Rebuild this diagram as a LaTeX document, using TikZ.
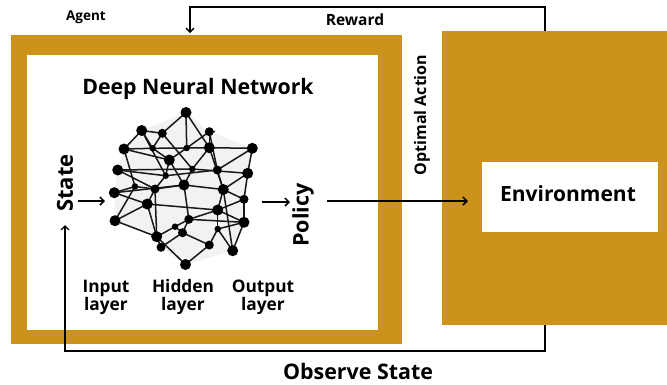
\documentclass[tikz,border=0pt]{standalone}
\usepackage{fontspec}
\setmainfont{Open Sans}
\usetikzlibrary{arrows.meta}
\definecolor{gold}{RGB}{203,147,26}
\begin{document}
\begin{tikzpicture}[x=1pt,y=-1pt,
  lbl/.style={font=\bfseries, text=black, inner sep=0pt},
  arr/.style={-{Straight Barb[length=4pt,width=8pt]}, line width=1.5pt},
  nb/.style={circle, fill=black, inner sep=0pt, minimum size=11pt},
  nm/.style={circle, fill=black, inner sep=0pt, minimum size=9pt},
  ns/.style={circle, fill=black, inner sep=0pt, minimum size=6.5pt},
  edge/.style={line width=1.5pt, black!90}]
\useasboundingbox (0,0) rectangle (667,384);
% Agent box
\fill[gold] (11,35) rectangle (402,344);
\fill[white] (27,55) rectangle (378,330);
% Environment box
\fill[gold] (442,31) rectangle (667,325);
\node[fill=white, minimum width=176pt, minimum height=70pt, inner sep=0pt] (env) at (570,197) {};
\node[lbl, font=\fontsize{21}{25}\selectfont\bfseries] (envt) at (568,194) {Environment};
% texts
\node[lbl, font=\fontsize{13.5}{16}\selectfont\bfseries] (agent) at (86,17) {Agent};
\node[lbl, font=\fontsize{15.5}{18}\selectfont\bfseries] (reward) at (355,20) {Reward};
\node[lbl, font=\fontsize{21.3}{25}\selectfont\bfseries] (dnn) at (198,89) {Deep Neural Network};
\node[lbl, font=\fontsize{22}{26}\selectfont\bfseries, rotate=90] (state) at (65,183) {State};
\node[lbl, font=\fontsize{21.5}{25}\selectfont\bfseries, rotate=90] (policy) at (303,215) {Policy};
\node[lbl, font=\fontsize{16}{19}\selectfont\bfseries, rotate=90] (opt) at (422,115) {Optimal Action};
\node[lbl, font=\fontsize{21.4}{25}\selectfont\bfseries] (obs) at (358,371) {Observe State};
\node[lbl, font=\fontsize{17.3}{20}\selectfont\bfseries, align=center] (inl) at (106,297) {Input\\[-2pt]layer};
\node[lbl, font=\fontsize{17.3}{20}\selectfont\bfseries, align=center] (hdl) at (183,297) {Hidden\\[-2pt]layer};
\node[lbl, font=\fontsize{17.3}{20}\selectfont\bfseries, align=center] (oul) at (263,297) {Output\\[-2pt]layer};
% connectors
\coordinate (rw1) at (545,31);
\coordinate (rw2) at (545,7);
\coordinate (rw3) at (190,7);
\coordinate (rw4) at (190,33);
\draw[arr, line width=1.3pt] (rw1) -- (rw2) -- (rw3) -- (rw4);
\coordinate (ob1) at (545,325);
\coordinate (ob2) at (545,351);
\coordinate (ob3) at (65,351);
\coordinate (ob4) at (65,225);
\draw[arr, line width=1.3pt] (ob1) -- (ob2) -- (ob3) -- (ob4);
\coordinate (sa1) at (78,201);
\coordinate (sa2) at (105,201);
\draw[arr] (sa1) -- (sa2);
\coordinate (pa1) at (262,202);
\coordinate (pa2) at (290,202);
\draw[arr] (pa1) -- (pa2);
\coordinate (oa1) at (327,201);
\coordinate (oa2) at (468,201);
\draw[arr] (oa1) -- (oa2);
% network coordinates
\foreach \n/\x/\y in {A/186/112.5, B/141.7/130.5, C/162.3/133.3, M/209.3/131.7, D/124/149,
  E/152.7/148.3, F/186.7/148, N/209.3/147.7, O/252.3/148.3, G/169.3/160, H/117.7/170,
  I/165.7/175.7, P/192.3/169, Q/217.3/170, R/247.7/173.3, K/135/186.5, L/155/189,
  J/184/185, S/223.3/189.5, T/114.3/192.7, AC/244/199.3, U/147.3/204, AD/217.7/210,
  W/188.8/219.3, V/115/220.7, AE/244/222.3, X/175/226.7, Z/156.7/236.7, Y/182.5/232.7,
  AF/217.7/229, AA/161/247.3, AG/209.3/245, AH/232.7/250.7, AB/185.5/264.5, MT/215/131.5}
  \coordinate (\n) at (\x,\y);
\fill[black!5] (A) -- (M) -- (O) -- (R) -- (AC) -- (AE) -- (AH) -- (AB) -- (AA) -- (Z) -- (V) -- (T) -- (H) -- (D) -- (B) -- cycle;
\foreach \a/\b in {A/C, A/N, A/F, B/C, B/E, B/I, C/E, C/P, M/MT, M/F, M/N, M/Q,
  D/E, E/F, F/N, N/O, D/K, D/G, G/F, G/I, G/J, G/E, H/I, H/L, H/P, I/Q, I/L,
  P/R, P/J, N/P, N/S, O/Q, O/R, Q/S, R/S, R/AC, K/T, K/L, T/J, T/U, L/J, L/U, L/Z,
  J/S, J/W, U/V, U/AD, U/Z, V/K, V/Z, S/AC, S/AD, S/AH, AC/AD, AC/AE,
  AD/W, AD/AE, AD/AF, W/Y, W/X, W/AE, AE/AF, AE/AH, X/Z, X/Y, Y/AA, Z/AA, Z/AB,
  Y/AG, AB/AG, AF/AH, AF/AG, D/B}
  \draw[edge] (\a) -- (\b);
\foreach \n in {A, B, D, N, O, G, H, J, R, S, T, U, AD, V, AE, Z, AH, AB}
  \node[nb] (n\n) at (\n) {};
\foreach \n in {C, M, Q, L, AC, W, Y, AA, AG}
  \node[nm] (n\n) at (\n) {};
\foreach \n in {E, F, I, P, K, X, AF}
  \node[ns] (n\n) at (\n) {};
\end{tikzpicture}
\end{document}
